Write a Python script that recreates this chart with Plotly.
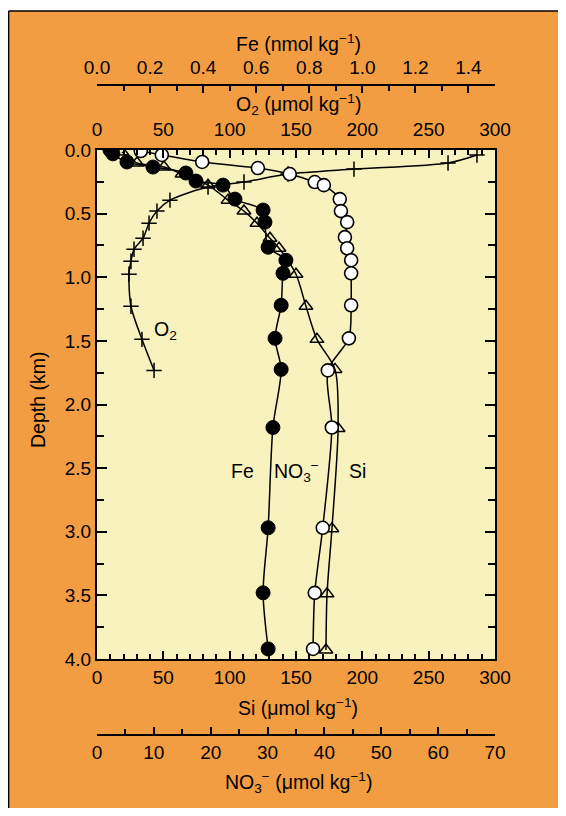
import plotly.graph_objects as go

# The page body has an 8 px margin, so the figure is drawn 8 px in from the
# window edges; the figure is sized so the page does not overflow.
OFF = 8
W, H = 566 - 2 * OFF, 816 - 2 * OFF

# ---------------- data ----------------
fe_depth = [0.00, 0.03, 0.094, 0.134, 0.181, 0.244, 0.276, 0.386, 0.472, 0.567,
            0.764, 0.866, 0.969, 1.220, 1.480, 1.724, 2.181, 2.969, 3.480, 3.921]
fe_val = [0.049, 0.060, 0.113, 0.211, 0.335, 0.373, 0.475, 0.520, 0.626, 0.633,
          0.645, 0.712, 0.701, 0.694, 0.671, 0.694, 0.663, 0.645, 0.626, 0.645]

o2_depth = [0.039, 0.102, 0.150, 0.189, 0.252, 0.291, 0.394, 0.480, 0.575, 0.693,
            0.780, 0.874, 0.976, 1.228, 1.488, 1.732]
o2_val = [286.4, 264.6, 193.7, 144.0, 110.8, 83.7, 55.0, 45.2, 39.2, 34.7,
          27.9, 25.6, 24.1, 25.6, 33.9, 43.0]

no3_depth = [0.008, 0.039, 0.094, 0.142, 0.189, 0.252, 0.276, 0.386, 0.480, 0.567,
             0.685, 0.772, 0.866, 0.969, 1.220, 1.480, 1.732, 2.181, 2.969, 3.480, 3.921]
no3_val = [7.7, 11.4, 18.5, 28.3, 33.9, 38.3, 39.9, 42.7, 42.9, 44.0,
           43.6, 44.0, 44.7, 44.7, 44.7, 44.3, 40.6, 41.3, 39.7, 38.3, 38.0]

si_depth = [0.016, 0.102, 0.134, 0.189, 0.276, 0.394, 0.480, 0.575, 0.693, 0.772,
            0.976, 1.228, 1.488, 1.724, 2.189, 2.976, 3.488, 3.929]
si_val = [18.8, 30.2, 50.5, 64.1, 83.7, 98.8, 110.8, 120.6, 130.4, 137.2,
          150.0, 157.5, 165.8, 179.4, 181.7, 177.1, 173.4, 172.6]

# ---------------- styling ----------------
ORANGE = "#F39D43"
CREAM = "#F8F3BE"
FONT = "Liberation Sans, Arial, sans-serif"
TICKFONT = dict(family=FONT, size=19, color="black")
TITLEFONT = dict(family=FONT, size=19.5, color="black")


def px(x):
    """window pixel x -> paper fraction"""
    return (x - OFF) / W


def py(y):
    """window pixel y -> paper fraction"""
    return 1 - (y - OFF) / H


X0, X1 = 97, 495
Y0, Y1 = 150, 659

fig = go.Figure()

line_style = dict(color="black", width=1.5, shape="spline", smoothing=0.8)

fig.add_trace(go.Scatter(
    x=si_val, y=si_depth, xaxis="x", yaxis="y", mode="lines+markers",
    line=line_style,
    marker=dict(symbol="triangle-up-open", size=12, color="black",
                line=dict(width=1.5, color="black")),
    name="Si", showlegend=False))

fig.add_trace(go.Scatter(
    x=no3_val, y=no3_depth, xaxis="x4", yaxis="y", mode="lines+markers",
    line=line_style,
    marker=dict(symbol="circle", size=13, color="white",
                line=dict(width=1.6, color="black")),
    name="NO3", showlegend=False))

fig.add_trace(go.Scatter(
    x=fe_val, y=fe_depth, xaxis="x3", yaxis="y", mode="lines+markers",
    line=line_style,
    marker=dict(symbol="circle", size=14, color="black",
                line=dict(width=1, color="black")),
    name="Fe", showlegend=False))

fig.add_trace(go.Scatter(
    x=o2_val, y=o2_depth, xaxis="x2", yaxis="y", mode="lines+markers",
    line=line_style,
    marker=dict(symbol="cross-thin", size=11, color="black",
                line=dict(width=1.5, color="black")),
    name="O2", showlegend=False))

common_x = dict(showline=True, linewidth=2, linecolor="black",
                showgrid=False, zeroline=False, automargin=False,
                tickfont=TICKFONT, tickwidth=1.5, tickcolor="black",
                fixedrange=True)

fig.update_layout(
    width=W, height=H,
    margin=dict(l=0, r=0, t=0, b=0, pad=0),
    paper_bgcolor=ORANGE,
    plot_bgcolor=CREAM,
    showlegend=False,
    xaxis=dict(domain=[px(X0), px(X1)], range=[0, 300], side="bottom",
               anchor="y", ticks="inside", ticklen=8, dtick=50, tick0=0,
               minor=dict(dtick=10, ticklen=5, ticks="inside",
                          tickwidth=1.5, tickcolor="black"),
               **common_x),
    xaxis2=dict(overlaying="x", range=[0, 300], side="top", anchor="y",
                ticks="inside", ticklen=8, dtick=50, tick0=0,
                ticklabelstandoff=4,
                minor=dict(dtick=10, ticklen=5, ticks="inside",
                           tickwidth=1.5, tickcolor="black"),
                **common_x),
    xaxis3=dict(overlaying="x", range=[0, 1.5], side="top", anchor="free",
                position=py(85), ticks="inside", ticklen=7, dtick=0.2,
                tick0=0, tickformat=".1f", ticklabelstandoff=2,
                minor=dict(dtick=0.1, ticklen=5, ticks="inside",
                           tickwidth=1.5, tickcolor="black"),
                **common_x),
    xaxis4=dict(overlaying="x", range=[0, 70], side="bottom", anchor="free",
                position=py(735), ticks="inside", ticklen=7, dtick=10,
                tick0=0,
                minor=dict(dtick=5, ticklen=5, ticks="inside",
                           tickwidth=1.5, tickcolor="black"),
                **common_x),
    yaxis=dict(domain=[py(Y1), py(Y0)], range=[4, 0], dtick=0.5, tick0=0,
               tickformat=".1f", ticks="inside", ticklen=10,
               minor=dict(dtick=0.25, ticklen=7, ticks="inside",
                          tickwidth=1.5, tickcolor="black"),
               mirror="ticks", showline=True, linewidth=2, linecolor="black",
               showgrid=False, zeroline=False, automargin=False,
               tickfont=TICKFONT, tickwidth=1.5, tickcolor="black",
               fixedrange=True),
)

# white strip above the orange panel and its black top/left border
fig.add_shape(type="rect", xref="paper", yref="paper", x0=0, x1=1,
              y0=py(11), y1=1, fillcolor="white", line=dict(width=0),
              layer="below")
fig.add_shape(type="line", xref="paper", yref="paper", x0=px(8.6), x1=1,
              y0=py(11), y1=py(11), line=dict(color="black", width=1.5))
fig.add_shape(type="line", xref="paper", yref="paper", x0=px(8.6), x1=px(8.6),
              y0=py(11), y1=0, line=dict(color="black", width=1.5))


# axis titles
def title(text, x, y, angle=0):
    fig.add_annotation(text=text, xref="paper", yref="paper",
                       x=px(x), y=py(y), xanchor="center", yanchor="middle",
                       showarrow=False, font=TITLEFONT, textangle=angle)


title("Fe (nmol kg<sup>−1</sup>)", 298, 43)
title("O<sub>2</sub> (μmol kg<sup>−1</sup>)", 298, 104)
title("Si (μmol kg<sup>−1</sup>)", 298, 707)
title("NO<sub>3</sub><sup>−</sup> (μmol kg<sup>−1</sup>)", 298, 782)
title("Depth (km)", 38, 400, angle=-90)


# in-plot curve labels (positioned in Si / depth data units)
def label(text, xv, yv):
    fig.add_annotation(text=text, xref="x", yref="y", x=xv, y=yv,
                       xanchor="center", yanchor="middle", showarrow=False,
                       font=TITLEFONT)


label("O<sub>2</sub>", 52, 1.42)
label("Fe", 110, 2.52)
label("NO<sub>3</sub><sup>−</sup>", 150, 2.53)
label("Si", 196, 2.52)

fig.write_html("out.html")
